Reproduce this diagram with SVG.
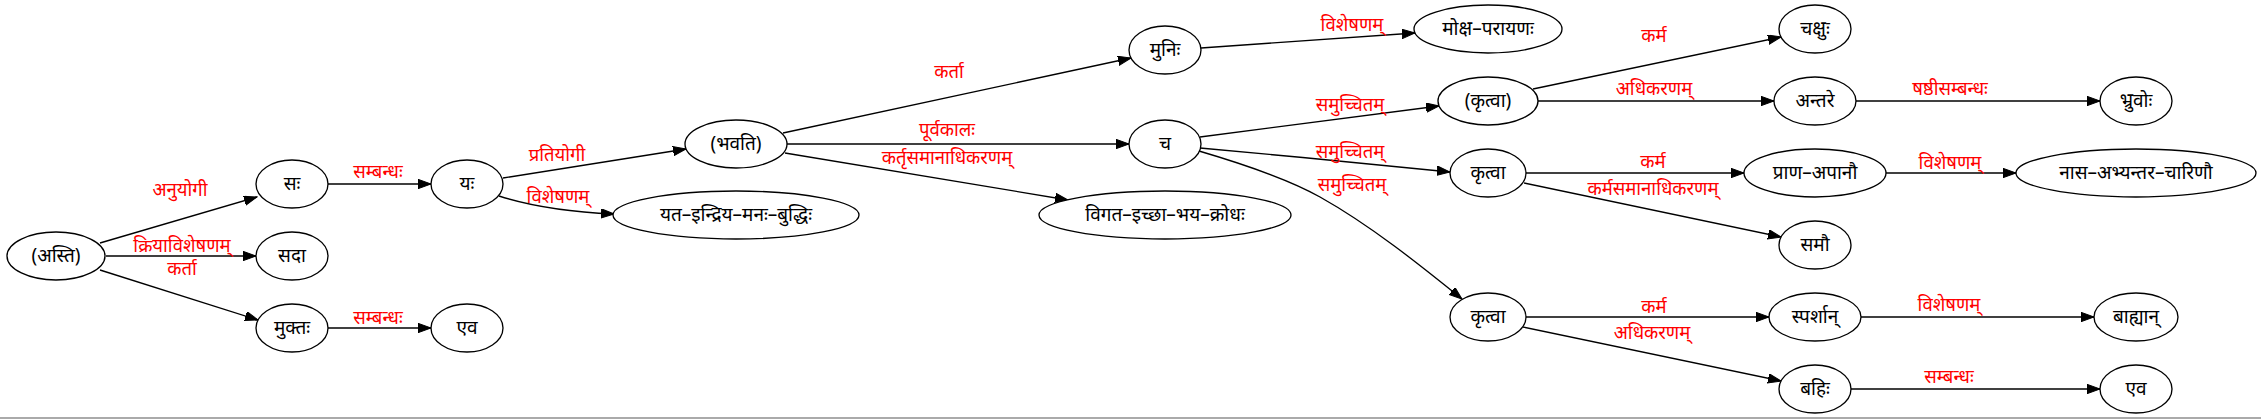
<svg xmlns="http://www.w3.org/2000/svg" width="2261" height="419" viewBox="0 0 2261 419">
<style>
.n ellipse{fill:#fff;stroke:#000;stroke-width:1.33}
.n text{font-family:"Noto Sans","DejaVu Sans",sans-serif;font-size:19px;fill:#000;text-anchor:middle}
.e path{fill:none;stroke:#000;stroke-width:1.33;marker-end:url(#arr)}
.e text{font-family:"Noto Sans","DejaVu Sans",sans-serif;font-size:18.5px;fill:#ff0000;text-anchor:middle}
</style>
<defs>
<marker id="arr" markerUnits="userSpaceOnUse" markerWidth="14" markerHeight="10" refX="13" refY="4.7" orient="auto">
<path d="M0,0 L13,4.7 L0,9.4 z" fill="#000" stroke="#000" stroke-width="1"/>
</marker>
</defs>
<rect x="0" y="0" width="2261" height="419" fill="#fff"/>
<line x1="0" y1="418" x2="2261" y2="418" stroke="#aaa" stroke-width="2"/>
<g class="e" id="edges">
<path d="M100,243 L257,197"/><text x="180" y="196">अनुयोगी</text>
<path d="M106,256 L256,256"/><text x="182" y="252">क्रियाविशेषणम्</text>
<path d="M100,270 L258,320"/><text x="182" y="275">कर्ता</text>
<path d="M328,184 L431,184"/><text x="378" y="178">सम्बन्धः</text>
<path d="M328,328 L431,328"/><text x="378" y="324">सम्बन्धः</text>
<path d="M503,178 L686,149"/><text x="557" y="161">प्रतियोगी</text>
<path d="M499,196 C530,206 570,212 614,214"/><text x="558" y="203">विशेषणम्</text>
<path d="M783,133 L1131,58"/><text x="949" y="78">कर्ता</text>
<path d="M787,144 L1129,144"/><text x="947" y="136">पूर्वकालः</text>
<path d="M785,153 L1068,200"/><text x="947" y="164">कर्तृसमानाधिकरणम्</text>
<path d="M1201,48 L1415,33"/><text x="1352" y="31">विशेषणम्</text>
<path d="M1200,137 L1439,106"/><text x="1350" y="111">समुच्चितम्</text>
<path d="M1200,148 C1280,155 1380,165 1450,172"/><text x="1350" y="158">समुच्चितम्</text>
<path d="M1199,151 C1250,166 1290,180 1320,197 C1370,225 1420,265 1462,299"/><text x="1352" y="191">समुच्चितम्</text>
<path d="M1533,89 L1781,37"/><text x="1654" y="42">कर्म</text>
<path d="M1538,101 L1774,101"/><text x="1654" y="95">अधिकरणम्</text>
<path d="M1856,101 L2100,101"/><text x="1950" y="95">षष्ठीसम्बन्धः</text>
<path d="M1526,173 L1744,173"/><text x="1653" y="168">कर्म</text>
<path d="M1524,183 L1781,237"/><text x="1653" y="195">कर्मसमानाधिकरणम्</text>
<path d="M1886,173 L2016,173"/><text x="1950" y="169">विशेषणम्</text>
<path d="M1526,317 L1769,317"/><text x="1654" y="313">कर्म</text>
<path d="M1523,327 L1781,381"/><text x="1652" y="339">अधिकरणम्</text>
<path d="M1861,317 L2094,317"/><text x="1949" y="311">विशेषणम्</text>
<path d="M1851,389 L2100,389"/><text x="1949" y="383">सम्बन्धः</text>
</g>
<g class="n" id="n_asti"><ellipse cx="56" cy="256" rx="49" ry="24"/><text x="56" y="262">(अस्ति)</text></g>
<g class="n" id="n_sah"><ellipse cx="292" cy="184" rx="36" ry="24"/><text x="292" y="190">सः</text></g>
<g class="n" id="n_sada"><ellipse cx="292" cy="256" rx="36" ry="24"/><text x="292" y="262">सदा</text></g>
<g class="n" id="n_muktah"><ellipse cx="292" cy="328" rx="36" ry="24"/><text x="292" y="334">मुक्तः</text></g>
<g class="n" id="n_yah"><ellipse cx="467" cy="184" rx="36" ry="24"/><text x="467" y="190">यः</text></g>
<g class="n" id="n_eva1"><ellipse cx="467" cy="328" rx="36" ry="24"/><text x="467" y="334">एव</text></g>
<g class="n" id="n_bhavati"><ellipse cx="736" cy="144" rx="51" ry="24"/><text x="736" y="150">(भवति)</text></g>
<g class="n" id="n_yata"><ellipse cx="736" cy="215" rx="123" ry="24"/><text x="736" y="221">यत–इन्द्रिय–मनः–बुद्धिः</text></g>
<g class="n" id="n_munih"><ellipse cx="1165" cy="50" rx="36" ry="24"/><text x="1165" y="56">मुनिः</text></g>
<g class="n" id="n_ca"><ellipse cx="1165" cy="144" rx="36" ry="24"/><text x="1165" y="150">च</text></g>
<g class="n" id="n_vigata"><ellipse cx="1165" cy="215" rx="126" ry="24"/><text x="1165" y="221">विगत–इच्छा–भय–क्रोधः</text></g>
<g class="n" id="n_moksha"><ellipse cx="1488" cy="29" rx="74" ry="24"/><text x="1488" y="35">मोक्ष–परायणः</text></g>
<g class="n" id="n_krtva0"><ellipse cx="1488" cy="101" rx="50" ry="24"/><text x="1488" y="107">(कृत्वा)</text></g>
<g class="n" id="n_krtva1"><ellipse cx="1488" cy="173" rx="38" ry="24"/><text x="1488" y="179">कृत्वा</text></g>
<g class="n" id="n_krtva2"><ellipse cx="1488" cy="317" rx="38" ry="24"/><text x="1488" y="323">कृत्वा</text></g>
<g class="n" id="n_caksuh"><ellipse cx="1815" cy="29" rx="36" ry="24"/><text x="1815" y="35">चक्षुः</text></g>
<g class="n" id="n_antare"><ellipse cx="1815" cy="101" rx="41" ry="24"/><text x="1815" y="107">अन्तरे</text></g>
<g class="n" id="n_prana"><ellipse cx="1815" cy="173" rx="71" ry="24"/><text x="1815" y="179">प्राण–अपानौ</text></g>
<g class="n" id="n_samau"><ellipse cx="1815" cy="245" rx="36" ry="24"/><text x="1815" y="251">समौ</text></g>
<g class="n" id="n_sparsan"><ellipse cx="1815" cy="317" rx="46" ry="24"/><text x="1815" y="323">स्पर्शान्</text></g>
<g class="n" id="n_bahih"><ellipse cx="1815" cy="389" rx="36" ry="24"/><text x="1815" y="395">बहिः</text></g>
<g class="n" id="n_bhruvoh"><ellipse cx="2136" cy="101" rx="36" ry="24"/><text x="2136" y="107">भ्रुवोः</text></g>
<g class="n" id="n_nasa"><ellipse cx="2136" cy="173" rx="120" ry="24"/><text x="2136" y="179">नास–अभ्यन्तर–चारिणौ</text></g>
<g class="n" id="n_bahyan"><ellipse cx="2136" cy="317" rx="42" ry="24"/><text x="2136" y="323">बाह्यान्</text></g>
<g class="n" id="n_eva2"><ellipse cx="2136" cy="389" rx="36" ry="24"/><text x="2136" y="395">एव</text></g>
</svg>
